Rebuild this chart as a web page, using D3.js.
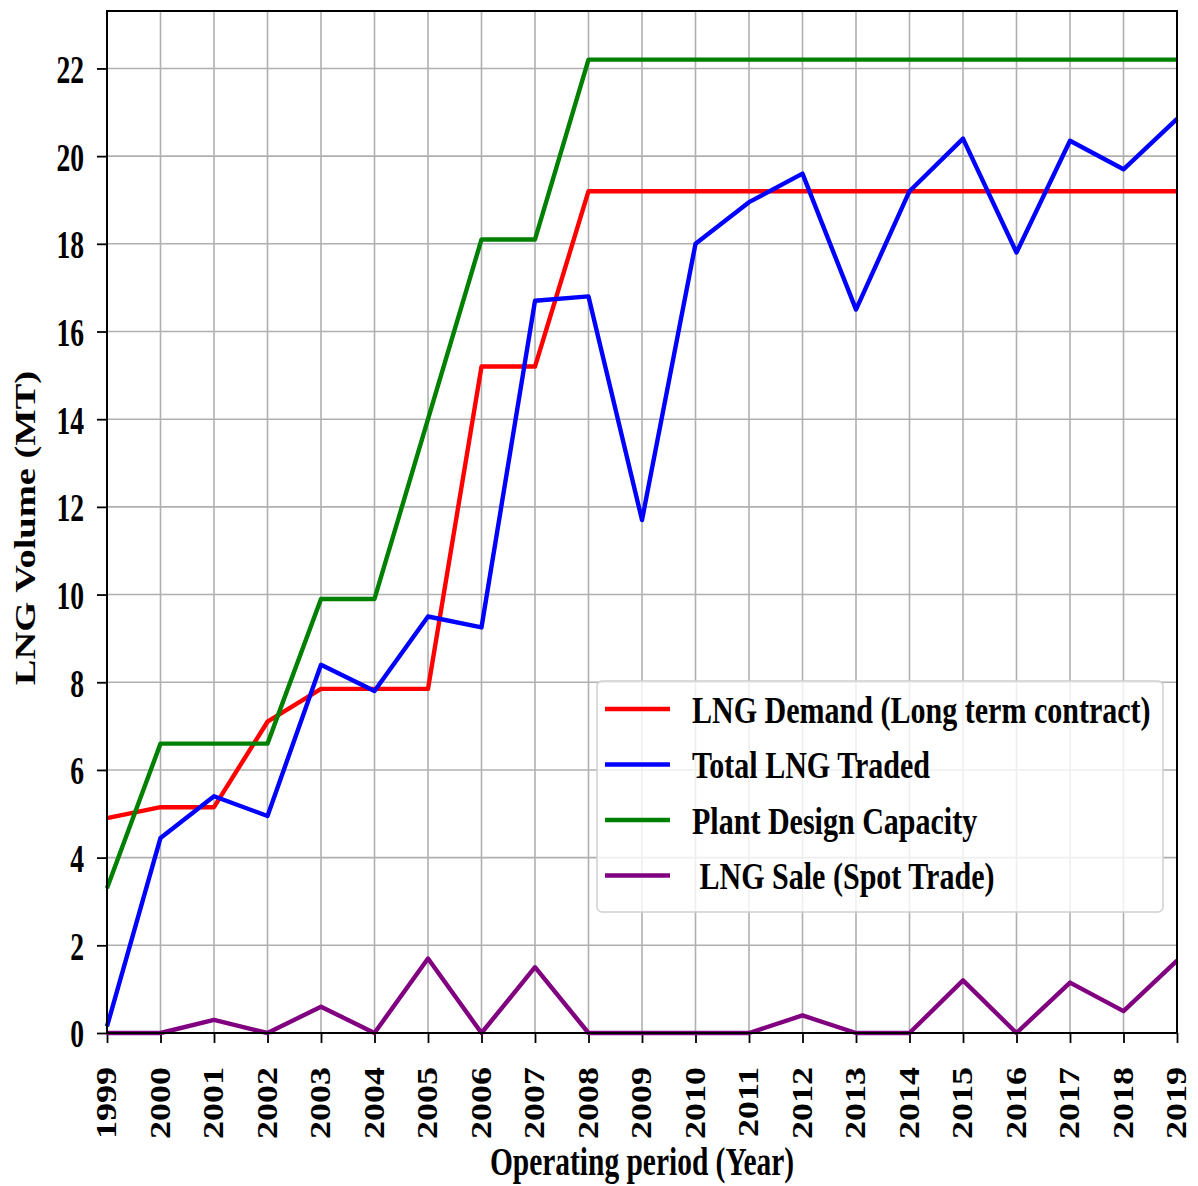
<!DOCTYPE html>
<html>
<head>
<meta charset="utf-8">
<script src="https://cdn.jsdelivr.net/npm/d3@7"></script>
<style>
    html, body { margin: 0; padding: 0; background: #fff; }
    svg { display: block; }
    text { font-family: "Liberation Serif", "Times New Roman", serif; font-weight: bold; fill: #000; }
</style>
</head>
<body>
<svg id="chart" width="1198" height="1186"></svg>
<script>
// data
var years = [1999, 2000, 2001, 2002, 2003, 2004, 2005, 2006, 2007, 2008, 2009,
    2010, 2011, 2012, 2013, 2014, 2015, 2016, 2017, 2018, 2019];
var demand = [4.9, 5.15, 5.15, 7.1, 7.85, 7.85, 7.85, 15.2, 15.2, 19.2, 19.2,
    19.2, 19.2, 19.2, 19.2, 19.2, 19.2, 19.2, 19.2, 19.2, 19.2];
var traded = [0.15, 4.45, 5.4, 4.95, 8.4, 7.8, 9.5, 9.25, 16.7, 16.8, 11.7,
    18.0, 18.95, 19.6, 16.5, 19.2, 20.4, 17.8, 20.35, 19.7, 20.85];
var capacity = [3.3, 6.6, 6.6, 6.6, 9.9, 9.9, 14.0, 18.1, 18.1, 22.2, 22.2,
    22.2, 22.2, 22.2, 22.2, 22.2, 22.2, 22.2, 22.2, 22.2, 22.2];
var spot = [0, 0, 0.3, 0, 0.6, 0, 1.7, 0, 1.5, 0, 0,
    0, 0, 0.4, 0, 0, 1.2, 0, 1.15, 0.5, 1.65];
var yTicks = [0, 2, 4, 6, 8, 10, 12, 14, 16, 18, 20, 22];

var series = [
    { name: 'LNG Demand (Long term contract)', values: demand, color: '#ff0000' },
    { name: 'Total LNG Traded', values: traded, color: '#0000ff' },
    { name: 'Plant Design Capacity', values: capacity, color: '#008000' },
    { name: ' LNG Sale (Spot Trade)', values: spot, color: '#800080' }
];

// plot box
var plotL = 107, plotR = 1177, plotT = 11, plotB = 1033;
var squeeze = 0.755;

var svg = d3.select('#chart');

var x = d3.scaleLinear().domain([1999, 2019]).range([plotL, plotR]);
var y = d3.scaleLinear().domain([0, 23.31]).range([plotB, plotT]);

// grid
var grid = svg.append('g');
grid.selectAll('line.gx')
    .data(years)
    .enter()
    .append('line')
    .attr('x1', d => x(d)).attr('x2', d => x(d))
    .attr('y1', plotT).attr('y2', plotB)
    .attr('stroke', '#b0b0b0')
    .attr('stroke-width', 1.6);
grid.selectAll('line.gy')
    .data(yTicks)
    .enter()
    .append('line')
    .attr('x1', plotL).attr('x2', plotR)
    .attr('y1', d => y(d)).attr('y2', d => y(d))
    .attr('stroke', '#b0b0b0')
    .attr('stroke-width', 1.6);

// axes
var yAxis = d3.axisLeft(y).tickValues(yTicks).tickSize(10).tickPadding(0).tickFormat(d3.format('d'));
var gy = svg.append('g').attr('transform', `translate(${plotL},0)`).call(yAxis);
gy.select('.domain').remove();
gy.selectAll('.tick line').attr('stroke', '#000').attr('stroke-width', 1.8);
gy.selectAll('.tick text')
    .attr('x', null).attr('dy', null)
    .attr('font-size', 40)
    .attr('text-anchor', 'end')
    .attr('dominant-baseline', 'central')
    .attr('transform', 'translate(-23,0) scale(0.69,1)');

var xAxis = d3.axisBottom(x).tickValues(years).tickSize(10).tickPadding(0).tickFormat(d3.format('d'));
var gx = svg.append('g').attr('transform', `translate(0,${plotB})`).call(xAxis);
gx.select('.domain').remove();
gx.selectAll('.tick line').attr('stroke', '#000').attr('stroke-width', 1.8);
gx.selectAll('.tick text')
    .attr('y', null).attr('dy', null)
    .attr('font-size', 36)
    .attr('text-anchor', 'end')
    .attr('dominant-baseline', 'central')
    .attr('transform', 'translate(-1,34) scale(0.82,1) rotate(-90)');

svg.selectAll('.tick text').attr('fill', '#000').style('font-family', null);

// lines
var line = d3.line()
    .x((d, i) => x(years[i]))
    .y(d => y(d));

svg.append('g')
    .selectAll('path')
    .data(series)
    .enter()
    .append('path')
    .attr('d', d => line(d.values))
    .attr('fill', 'none')
    .attr('stroke', d => d.color)
    .attr('stroke-width', 4.4)
    .attr('stroke-linejoin', 'round');

// frame
svg.append('rect')
    .attr('x', plotL).attr('y', plotT)
    .attr('width', plotR - plotL).attr('height', plotB - plotT)
    .attr('fill', 'none')
    .attr('stroke', '#000')
    .attr('stroke-width', 2);

// axis labels
svg.append('text')
    .text('Operating period (Year)')
    .attr('font-size', 39)
    .attr('text-anchor', 'middle')
    .attr('transform', `translate(${(plotL + plotR) / 2},1175) scale(${squeeze},1)`);

svg.append('text')
    .text('LNG Volume (MT)')
    .attr('font-size', 38.5)
    .attr('text-anchor', 'middle')
    .attr('transform', `translate(35,528) scale(0.74,1) rotate(-90)`);

// legend
var legend = svg.append('g');
legend.append('rect')
    .attr('x', 597).attr('y', 681)
    .attr('width', 566).attr('height', 231)
    .attr('rx', 5)
    .attr('fill', 'rgba(255,255,255,0.8)')
    .attr('stroke', '#d0d0d0')
    .attr('stroke-width', 1.5);

var rows = legend.selectAll('g.row')
    .data(series)
    .enter()
    .append('g')
    .attr('transform', (d, i) => `translate(0,${709 + i * 55.5})`);

rows.append('line')
    .attr('x1', 605).attr('x2', 670)
    .attr('y1', 0).attr('y2', 0)
    .attr('stroke', d => d.color)
    .attr('stroke-width', 4.4);

rows.append('text')
    .text(d => d.name)
    .attr('font-size', 39)
    .attr('dominant-baseline', 'central')
    .style('white-space', 'pre')
    .attr('transform', `translate(692,1) scale(0.77,1)`);
</script>
</body>
</html>
